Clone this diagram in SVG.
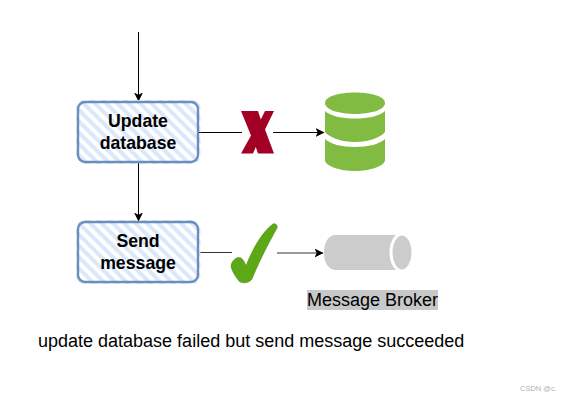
<svg xmlns="http://www.w3.org/2000/svg" width="569" height="401" viewBox="0 0 569 401">
<style>
.t{font-family:"Liberation Sans",Arial,sans-serif;fill:#000}
.b{font-size:17.7px;font-weight:bold;text-anchor:middle}
.c{fill:none;stroke:#000;stroke-width:1}
.box{fill:none;stroke:#6c8ebf;stroke-width:2.4}
.h{fill:url(#hatch)}
</style>
<defs>
<pattern id="hatch" width="8" height="8" patternUnits="userSpaceOnUse" patternTransform="rotate(-45)">
<rect width="4" height="8" fill="#dae8fc"/>
</pattern>
<marker id="a" markerWidth="10" markerHeight="10" refX="8.500" refY="4.500" orient="auto" markerUnits="userSpaceOnUse">
<path d="M0 0L9 4.500L0 9L2.200 4.500Z" fill="#000"/>
</marker>
</defs>
<rect width="569" height="401" fill="#fff"/>
<g id="connectors">
<path class="c" d="M138.500 32V101" marker-end="url(#a)"/>
<path class="c" d="M138.500 163V221" marker-end="url(#a)"/>
<path class="c" d="M198 132.500H242"/>
<path class="c" d="M273 132.500H324" marker-end="url(#a)"/>
<path class="c" d="M198 252.500H232" style="stroke:#333"/>
<path class="c" d="M277 253H323" style="stroke:#333" marker-end="url(#a)"/>
</g>
<g id="update-database">
<rect class="h" x="76" y="100" width="124.500" height="64" rx="8"/>
<rect class="box" x="78" y="102" width="120" height="60" rx="7"/>
<text class="t b" x="138" y="126.500">Update</text>
<text class="t b" x="138" y="148.500">database</text>
</g>
<g id="send-message">
<rect class="h" x="76" y="220" width="124.500" height="64" rx="8"/>
<rect class="box" x="78" y="222" width="120" height="60" rx="7"/>
<text class="t b" x="138" y="246.500">Send</text>
<text class="t b" x="138" y="268.500">message</text>
</g>
<g id="x-mark">
<path d="M241 111H258L260.800 119.500L265 111H274L265 129.500L274 153.500H258L255.800 147L253 153.500H241L251 135.500Z" fill="#a20025"/>
</g>
<g id="database">
<path d="M325 103C325 96 340 92.500 355 92.500C370 92.500 385 96 385 103C385 110 370 114 355 114C340 114 325 110 325 103Z" fill="#82bb42"/>
<path d="M325 111C330 116 342 118.500 355 118.500C368 118.500 380 116 385 111V132C380 138 368 142 355 142C342 142 330 138 325 132Z" fill="#82bb42"/>
<path d="M325 139C330 144 342 147 355 147C368 147 380 144 385 139V160C385 166 370 171 355 171C340 171 325 166 325 160Z" fill="#82bb42"/>
</g>
<g id="check-mark">
<path d="M231 266C232 260 237 256 241 258C243 259 245 263 246 266C252 250 262 232 273 224C275 223 278 225 277 228C268 244 258 264 252 279C250 283 242 284 239 281C236 277 232 272 231 266Z" fill="#5ca816" stroke="#4c8f10" stroke-width=".6"/>
</g>
<g id="message-broker">
<path d="M336 235H401V270H336C328 270 324 262 324 252.500C324 243 328 235 336 235Z" fill="#ccc"/>
<ellipse cx="402" cy="252.500" rx="11" ry="18.500" fill="#ccc" stroke="#fff" stroke-width="3"/>
<rect x="307" y="290" width="131" height="20" fill="#c8c8c8"/>
<text class="t" x="307" y="306" font-size="18">Message Broker</text>
</g>
<text class="t" x="38" y="347" font-size="18">update database failed but send message succeeded</text>
<text class="t" x="520" y="391" font-size="7.500" style="fill:#b0b0b0">CSDN @c.</text>
</svg>
